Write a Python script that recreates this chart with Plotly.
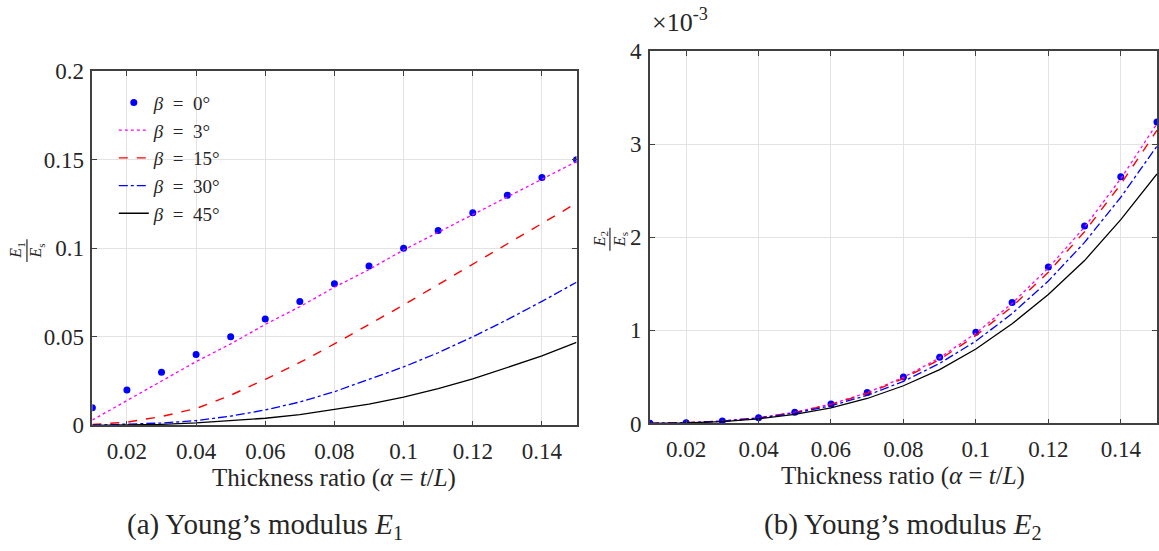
import plotly.graph_objects as go
from plotly.subplots import make_subplots

W, H = 1159, 551

alpha = [0.01, 0.02, 0.03, 0.04, 0.05, 0.06, 0.07, 0.08, 0.09, 0.10, 0.11, 0.12, 0.13, 0.14, 0.15]
x_ticks = [0.02, 0.04, 0.06, 0.08, 0.10, 0.12, 0.14]
x_ticklabels = ["0.02", "0.04", "0.06", "0.08", "0.1", "0.12", "0.14"]
y1_ticks = [0, 0.05, 0.10, 0.15, 0.20]
y1_ticklabels = ["0", "0.05", "0.1", "0.15", "0.2"]
y2_ticks = [0, 1, 2, 3, 4]
y2_ticklabels = ["0", "1", "2", "3", "4"]

legend_names = ["<i>β</i>&nbsp;&nbsp;=&nbsp;&nbsp;0°", "<i>β</i>&nbsp;&nbsp;=&nbsp;&nbsp;3°",
                "<i>β</i>&nbsp;&nbsp;=&nbsp;&nbsp;15°", "<i>β</i>&nbsp;&nbsp;=&nbsp;&nbsp;30°",
                "<i>β</i>&nbsp;&nbsp;=&nbsp;&nbsp;45°"]

# E1/Es
e1_b0 = [0.010, 0.020, 0.030, 0.040, 0.050, 0.060, 0.070, 0.080, 0.090, 0.100, 0.110, 0.120, 0.130, 0.140, 0.150]
e1_b3 = [0.003, 0.014, 0.025, 0.036, 0.046, 0.057, 0.067, 0.078, 0.088, 0.099, 0.109, 0.119, 0.129, 0.139, 0.149]
e1_b15 = [0.0005, 0.0018, 0.0050, 0.0095, 0.0170, 0.0260, 0.0355, 0.0460, 0.0570, 0.0680, 0.0795, 0.0910, 0.1025, 0.1140, 0.1255]
e1_b30 = [0.0001, 0.0005, 0.0013, 0.0027, 0.0052, 0.0087, 0.0132, 0.0190, 0.0258, 0.0330, 0.0410, 0.0500, 0.0597, 0.0700, 0.0808]
e1_b45 = [0.0000, 0.0002, 0.0006, 0.0014, 0.0025, 0.0040, 0.0060, 0.0088, 0.0120, 0.0160, 0.0208, 0.0262, 0.0325, 0.0392, 0.0468]

# E2/Es  (in units of 1e-3)
e2_b0 = [0.001, 0.008, 0.026, 0.062, 0.121, 0.210, 0.333, 0.500, 0.710, 0.980, 1.300, 1.680, 2.120, 2.650, 3.240]
e2_b3 = [0.001, 0.008, 0.026, 0.062, 0.120, 0.208, 0.330, 0.495, 0.705, 0.970, 1.290, 1.670, 2.110, 2.630, 3.220]
e2_b15 = [0.001, 0.008, 0.025, 0.060, 0.117, 0.203, 0.322, 0.482, 0.687, 0.945, 1.255, 1.625, 2.060, 2.570, 3.150]
e2_b30 = [0.001, 0.007, 0.024, 0.057, 0.111, 0.190, 0.302, 0.452, 0.645, 0.885, 1.180, 1.530, 1.945, 2.430, 2.980]
e2_b45 = [0.001, 0.006, 0.020, 0.050, 0.098, 0.168, 0.268, 0.405, 0.578, 0.800, 1.070, 1.385, 1.750, 2.190, 2.680]

FONT = "Liberation Serif"
TXT = "#262626"
AX = "#404040"
GRID = "#e3e3e3"

fig = make_subplots(rows=1, cols=2)

styles = [
    dict(mode="markers", marker=dict(color="#0000ff", size=7)),
    dict(mode="lines", line=dict(color="#ff00ff", width=1.3, dash="dot")),
    dict(mode="lines", line=dict(color="#ff0000", width=1.4, dash="dash")),
    dict(mode="lines", line=dict(color="#0000ff", width=1.3, dash="dashdot")),
    dict(mode="lines", line=dict(color="#000000", width=1.3)),
]

for i, (ys, st) in enumerate(zip([e1_b0, e1_b3, e1_b15, e1_b30, e1_b45], styles)):
    fig.add_trace(go.Scatter(x=alpha, y=ys, name=legend_names[i], showlegend=True, **st), row=1, col=1)
for i, (ys, st) in enumerate(zip([e2_b0, e2_b3, e2_b15, e2_b30, e2_b45], styles)):
    fig.add_trace(go.Scatter(x=alpha, y=ys, name=legend_names[i], showlegend=False, **st), row=1, col=2)

def px(x):
    return x / W

def py(y):
    return 1 - y / H

axis_common = dict(
    showgrid=True, gridcolor=GRID, gridwidth=1,
    showline=True, linecolor=AX, linewidth=1.5, mirror="ticks",
    ticks="inside", ticklen=5, tickcolor=AX, tickwidth=1,
    zeroline=False,
    tickfont=dict(family=FONT, size=23, color=TXT),
)

fig.update_xaxes(range=[0.01, 0.15], tickvals=x_ticks, ticktext=x_ticklabels,
                 ticklabelstandoff=4, **axis_common)
fig.update_yaxes(ticklabelstandoff=2, **axis_common)
fig.update_xaxes(domain=[px(92.5), px(577.5)], row=1, col=1)
fig.update_xaxes(domain=[px(651), 1.0], row=1, col=2)
fig.update_yaxes(range=[0, 0.2], tickvals=y1_ticks, ticktext=y1_ticklabels,
                 domain=[py(433), py(62)], row=1, col=1)
fig.update_yaxes(range=[0, 4], tickvals=y2_ticks, ticktext=y2_ticklabels,
                 domain=[py(431), py(41)], row=1, col=2)

annots = []
def ann(x, y, text, size, angle=0, xanchor="center", yanchor="middle"):
    annots.append(dict(x=px(x), y=py(y), xref="paper", yref="paper", text=text, showarrow=False,
                       textangle=angle, xanchor=xanchor, yanchor=yanchor,
                       font=dict(family=FONT, size=size, color=TXT)))

# x axis titles
ann(335, 488, "Thickness ratio (<i>α</i> = <i>t</i>/<i>L</i>)", 25)
ann(905, 486, "Thickness ratio (<i>α</i> = <i>t</i>/<i>L</i>)", 25)
# captions
ann(265, 538, "(a) Young’s modulus <i>E</i><sub>1</sub>", 29)
ann(905, 538, "(b) Young’s modulus <i>E</i><sub>2</sub>", 29)
# exponent
ann(651, 9, "×10<sup>-3</sup>", 26, xanchor="left")
# y-axis fraction titles
ann(17, 250, "<i>E</i><sub>1</sub>", 16, angle=-90)
ann(37, 250, "<i>E</i><sub>s</sub>", 16, angle=-90)
ann(601, 238, "<i>E</i><sub>2</sub>", 16, angle=-90)
ann(621, 238, "<i>E</i><sub>s</sub>", 16, angle=-90)

shapes = [
    dict(type="line", xref="paper", yref="paper", x0=px(27), x1=px(27), y0=py(238), y1=py(262),
         line=dict(color=TXT, width=1.2)),
    dict(type="line", xref="paper", yref="paper", x0=px(611), x1=px(611), y0=py(226), y1=py(250),
         line=dict(color=TXT, width=1.2)),
]

fig.update_layout(
    width=W, height=H,
    margin=dict(l=0, r=0, t=0, b=0),
    paper_bgcolor="white", plot_bgcolor="white",
    annotations=annots, shapes=shapes,
    legend=dict(x=px(114), y=py(75), xanchor="left", yanchor="top",
                bgcolor="rgba(255,255,255,0)", borderwidth=0,
                font=dict(family=FONT, size=19, color=TXT),
                tracegroupgap=0, itemwidth=30),
)

fig.write_html("out.html")
